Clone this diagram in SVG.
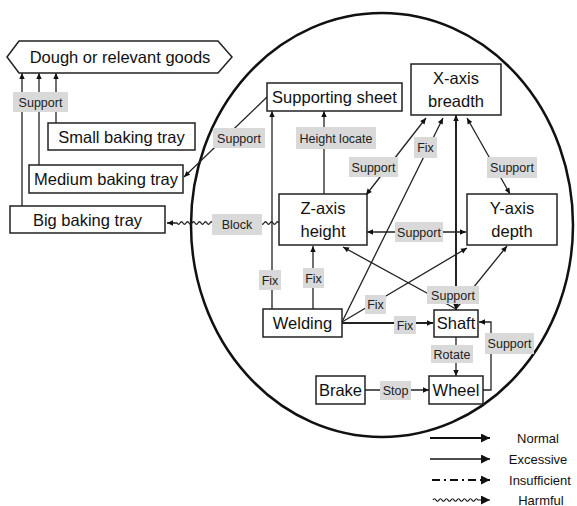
<svg xmlns="http://www.w3.org/2000/svg" width="577" height="506" viewBox="0 0 577 506">
  <style>
    .box { fill: #ffffff; stroke: #222222; stroke-width: 1.5; }
    .t { font-family: "Liberation Sans", Arial, sans-serif; font-size: 16.5px; fill: #111111; text-anchor: middle; }
    .lbl rect { fill: #d9d9d9; stroke: none; }
    .lbl text { font-family: "Liberation Sans", Arial, sans-serif; font-size: 12.5px; fill: #222222; text-anchor: middle; }
    .ln { fill: none; stroke: #222222; stroke-width: 1.3; }
    .thick { stroke-width: 2; }
    .leg { font-family: "Liberation Sans", Arial, sans-serif; font-size: 13px; fill: #111111; text-anchor: middle; }
  </style>
  <defs>
    <marker id="arr" viewBox="0 0 10 10" refX="10" refY="5" markerWidth="7" markerHeight="6" markerUnits="userSpaceOnUse" orient="auto-start-reverse">
      <path d="M0,0.5 L10,5 L0,9.5 z" fill="#111111"/>
    </marker>
    <marker id="bigArr" viewBox="0 0 10 10" refX="10" refY="5" markerWidth="12" markerHeight="9" markerUnits="userSpaceOnUse" orient="auto">
      <path d="M0,0 L10,5 L0,10 z" fill="#111111"/>
    </marker>
  </defs>

  <rect width="577" height="506" fill="#ffffff"/>

  <!-- system boundary -->
  <ellipse cx="382" cy="225" rx="191" ry="212" fill="none" stroke="#111111" stroke-width="2.5"/>

  <g id="connectors">
    <!-- trays support the dough -->
    <line class="ln" x1="22" y1="206" x2="22" y2="73" marker-end="url(#arr)"/>
    <line class="ln" x1="39" y1="165" x2="39" y2="73" marker-end="url(#arr)"/>
    <line class="ln" x1="56" y1="123" x2="56" y2="73" marker-end="url(#arr)"/>
    <!-- supporting sheet supports medium tray -->
    <line class="ln" x1="267" y1="97" x2="184" y2="177" marker-end="url(#arr)"/>
    <!-- harmful block: Z-axis to big tray -->
    <path class="ln" d="M279,223 q-1.5,-2.5 -3,0 t-3,0 t-3,0 t-3,0 t-3,0 t-3,0 t-3,0 t-3,0 t-3,0 t-3,0 t-3,0 t-3,0 t-3,0 t-3,0 t-3,0 t-3,0 t-3,0 t-3,0 t-3,0 t-3,0 t-3,0 t-3,0 t-3,0 t-3,0 t-3,0 t-3,0 t-3,0 t-3,0 t-3,0 t-3,0 t-3,0 t-3,0 t-3,0 t-3,0 L167,223" marker-end="url(#arr)"/>
    <!-- welding fixes supporting sheet -->
    <line class="ln" x1="272" y1="309" x2="272" y2="111" marker-end="url(#arr)"/>
    <!-- Z-axis height locates supporting sheet -->
    <line class="ln" x1="324" y1="194" x2="324" y2="111" marker-end="url(#arr)"/>
    <!-- Z-axis <-> X-axis -->
    <line class="ln" x1="366" y1="195" x2="426" y2="118" marker-start="url(#arr)" marker-end="url(#arr)"/>
    <!-- X-axis <-> Y-axis -->
    <line class="ln" x1="467" y1="118" x2="510" y2="194" marker-start="url(#arr)" marker-end="url(#arr)"/>
    <!-- Z-axis <-> Y-axis -->
    <line class="ln" x1="367" y1="232" x2="466" y2="232" marker-start="url(#arr)" marker-end="url(#arr)"/>
    <!-- welding fixes -->
    <line class="ln" x1="313" y1="309" x2="313" y2="246" marker-end="url(#arr)"/>
    <line class="ln" x1="342" y1="322" x2="443" y2="118" marker-end="url(#arr)"/>
    <line class="ln" x1="342" y1="322" x2="467" y2="248" marker-end="url(#arr)"/>
    <line class="ln thick" x1="342" y1="323" x2="433" y2="323" marker-end="url(#arr)"/>
    <!-- shaft supports the axes -->
    <line class="ln thick" x1="456" y1="310" x2="456" y2="115" marker-start="url(#arr)" marker-end="url(#arr)"/>
    <line class="ln" x1="456" y1="309" x2="343" y2="247" marker-end="url(#arr)"/>
    <line class="ln" x1="456" y1="309" x2="507" y2="246" marker-end="url(#arr)"/>
    <!-- shaft rotates wheel -->
    <line class="ln" x1="456" y1="337" x2="456" y2="376" marker-end="url(#arr)"/>
    <!-- brake stops wheel -->
    <line class="ln" x1="365" y1="390" x2="429" y2="390" marker-end="url(#arr)"/>
    <!-- wheel supports shaft -->
    <path class="ln" d="M483,390 H491 V322 H479" marker-end="url(#arr)"/>

    <g class="lbl">
      <rect x="13" y="92" width="55" height="20"/><text x="40.5" y="106.5">Support</text>
      <rect x="213" y="128" width="52" height="20"/><text x="239" y="142.5">Support</text>
      <rect x="212" y="214" width="50" height="21"/><text x="237" y="229">Block</text>
      <rect x="296" y="127" width="80" height="22"/><text x="336" y="142.5">Height locate</text>
      <rect x="349" y="157" width="49" height="20"/><text x="373.5" y="171.5">Support</text>
      <rect x="414" y="137" width="23" height="21"/><text x="425.5" y="152">Fix</text>
      <rect x="487" y="157" width="50" height="21"/><text x="512" y="172">Support</text>
      <rect x="395" y="222" width="48" height="20"/><text x="419" y="236.5">Support</text>
      <rect x="259" y="270" width="22" height="20"/><text x="270" y="284.5">Fix</text>
      <rect x="303" y="268" width="21" height="20"/><text x="313.5" y="282.5">Fix</text>
      <rect x="365" y="295" width="21" height="19"/><text x="375.5" y="309">Fix</text>
      <rect x="427" y="286" width="52" height="18"/><text x="453" y="299.5">Support</text>
      <rect x="394" y="316" width="22" height="18"/><text x="405" y="329.5">Fix</text>
      <rect x="431" y="345" width="42" height="18"/><text x="452" y="358.5">Rotate</text>
      <rect x="485" y="333" width="49" height="21"/><text x="509.5" y="348">Support</text>
      <rect x="380" y="381" width="31" height="19"/><text x="395.5" y="395">Stop</text>
    </g>
  </g>

  <g id="dough">
    <polygon class="box" points="7,57 19,41 218,41 232,57 218,73 19,73"/>
    <text class="t" x="120" y="63">Dough or relevant goods</text>
  </g>
  <g id="small-tray">
    <rect class="box" x="48" y="123" width="147" height="27"/>
    <text class="t" x="121.5" y="142.5">Small baking tray</text>
  </g>
  <g id="medium-tray">
    <rect class="box" x="29" y="165" width="154" height="28"/>
    <text class="t" x="106" y="185">Medium baking tray</text>
  </g>
  <g id="big-tray">
    <rect class="box" x="10" y="206" width="155" height="27"/>
    <text class="t" x="87.5" y="225.5">Big baking tray</text>
  </g>
  <g id="supporting-sheet">
    <rect class="box" x="267" y="83" width="135" height="28"/>
    <text class="t" x="334.5" y="103">Supporting sheet</text>
  </g>
  <g id="x-axis">
    <rect class="box" x="411" y="64" width="90" height="51"/>
    <text class="t" x="456" y="84">X-axis</text>
    <text class="t" x="456" y="107">breadth</text>
  </g>
  <g id="z-axis">
    <rect class="box" x="279" y="194" width="88" height="51"/>
    <text class="t" x="323" y="214">Z-axis</text>
    <text class="t" x="323" y="237">height</text>
  </g>
  <g id="y-axis">
    <rect class="box" x="467" y="194" width="90" height="51"/>
    <text class="t" x="512" y="214">Y-axis</text>
    <text class="t" x="512" y="237">depth</text>
  </g>
  <g id="welding">
    <rect class="box" x="263" y="309" width="79" height="28"/>
    <text class="t" x="302.5" y="329">Welding</text>
  </g>
  <g id="shaft">
    <rect class="box" x="434" y="310" width="44" height="27"/>
    <text class="t" x="456" y="329">Shaft</text>
  </g>
  <g id="brake">
    <rect class="box" x="316" y="376" width="49" height="28"/>
    <text class="t" x="340.5" y="396">Brake</text>
  </g>
  <g id="wheel">
    <rect class="box" x="429" y="376" width="54" height="28"/>
    <text class="t" x="456" y="396">Wheel</text>
  </g>

  <g id="legend">
    <line x1="430" y1="438" x2="490" y2="438" stroke="#111111" stroke-width="2.2" marker-end="url(#bigArr)"/>
    <text class="leg" x="538" y="442.5">Normal</text>
    <line x1="430" y1="459" x2="490" y2="459" stroke="#111111" stroke-width="1.4" marker-end="url(#bigArr)"/>
    <text class="leg" x="538" y="463.5">Excessive</text>
    <line x1="432" y1="480" x2="490" y2="480" stroke="#111111" stroke-width="1.8" stroke-dasharray="8,4,2,4" marker-end="url(#bigArr)"/>
    <text class="leg" x="540" y="484.5">Insufficient</text>
    <path d="M433,500 q1.5,-2.5 3,0 t3,0 t3,0 t3,0 t3,0 t3,0 t3,0 t3,0 t3,0 t3,0 t3,0 t3,0 t3,0 t3,0 t3,0 L490,500" fill="none" stroke="#111111" stroke-width="1.2" marker-end="url(#bigArr)"/>
    <text class="leg" x="541" y="504.5">Harmful</text>
  </g>
</svg>
